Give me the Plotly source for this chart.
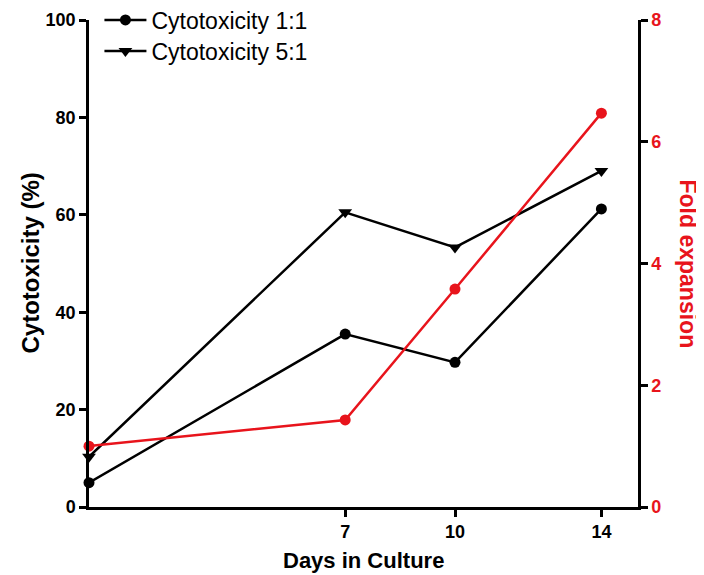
import plotly.graph_objects as go

days = [0, 7, 10, 14]
cyto_1_1 = [5, 35.5, 29.7, 61.2]
cyto_5_1 = [10.3, 60.5, 53.3, 69]
fold_expansion = [1.0, 1.43, 3.58, 6.47]

x_ticks = [7, 10, 14]
left_ticks = [0, 20, 40, 60, 80, 100]
right_ticks = [0, 2, 4, 6, 8]

RED = "#e8141c"
FONT = "Liberation Sans, Arial, sans-serif"

fig = go.Figure()
fig.add_trace(go.Scatter(
    x=days, y=cyto_1_1, name="Cytotoxicity 1:1", mode="lines+markers",
    line=dict(color="black", width=2.5),
    marker=dict(symbol="circle", size=11, color="black"),
    cliponaxis=False, legend="legend"))
fig.add_trace(go.Scatter(
    x=days, y=cyto_5_1, name="Cytotoxicity 5:1", mode="lines+markers",
    line=dict(color="black", width=2.5),
    marker=dict(symbol="triangle-down", size=12, color="black"),
    cliponaxis=False, legend="legend2"))
fig.add_trace(go.Scatter(
    x=days, y=fold_expansion, name="Fold expansion", mode="lines+markers",
    line=dict(color=RED, width=2.5),
    marker=dict(symbol="circle", size=11, color=RED),
    yaxis="y2", showlegend=False, cliponaxis=False))

legend_style = dict(xanchor="left", yanchor="middle",
                    font=dict(size=23, family=FONT), bgcolor="rgba(0,0,0,0)",
                    itemwidth=42)

# page body has an 8px margin, so the figure is drawn slightly smaller
fig.update_layout(
    width=696, height=567,
    margin=dict(l=81, r=66, t=12, b=68, autoexpand=False),
    paper_bgcolor="white", plot_bgcolor="white",
    font=dict(family=FONT, color="black"),
    showlegend=True,
    legend=dict(x=0.019, y=1.0, **legend_style),
    legend2=dict(x=0.019, y=0.936, **legend_style),
    xaxis=dict(range=[0, 15], tickvals=x_ticks, ticktext=[str(t) for t in x_ticks],
               showgrid=False, zeroline=False, showline=True, linecolor="black",
               linewidth=2.5, ticks="outside", ticklen=7, tickwidth=2.5,
               tickcolor="black", automargin=False,
               tickfont=dict(size=18, family=FONT, color="black", weight="bold")),
    yaxis=dict(range=[0, 100], tickvals=left_ticks, showgrid=False, zeroline=False,
               showline=True, linecolor="black", linewidth=2.5, ticks="outside",
               ticklen=7, tickwidth=2.5, tickcolor="black", automargin=False,
               tickfont=dict(size=18, family=FONT, color="black", weight="bold")),
    yaxis2=dict(range=[0, 8], tickvals=right_ticks, overlaying="y", side="right",
                showgrid=False, zeroline=False, showline=True, linecolor="black",
                linewidth=2.5, ticks="outside", ticklen=7, tickwidth=2.5,
                tickcolor="black", automargin=False,
                tickfont=dict(size=18, family=FONT, color=RED, weight="bold")),
    annotations=[
        dict(text="<b>Days in Culture</b>", x=0.5, y=0, xref="paper", yref="paper",
             xanchor="center", yanchor="middle", yshift=-53, showarrow=False,
             font=dict(size=22, family=FONT, color="black")),
        dict(text="<b>Cytotoxicity (%)</b>", x=0, y=0.5, xref="paper", yref="paper",
             xanchor="center", yanchor="middle", xshift=-59, textangle=-90,
             showarrow=False, font=dict(size=24, family=FONT, color="black")),
        dict(text="<b>Fold expansion</b>", x=1, y=0.5, xref="paper", yref="paper",
             xanchor="center", yanchor="middle", xshift=50, textangle=90,
             showarrow=False, font=dict(size=23, family=FONT, color=RED)),
    ],
)

fig.write_html("out.html")
